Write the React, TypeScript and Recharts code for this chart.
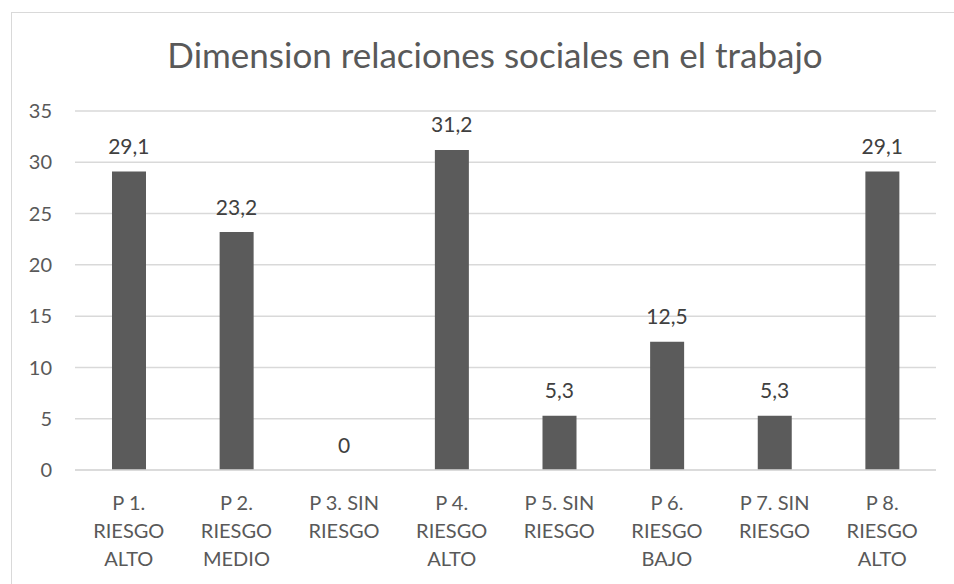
import React from 'react';
import { ComposedChart, Bar, Line, XAxis, YAxis, CartesianGrid, LabelList } from 'recharts';

const categories = [
  'P 1.\nRIESGO\nALTO',
  'P 2.\nRIESGO\nMEDIO',
  'P 3. SIN\nRIESGO',
  'P 4.\nRIESGO\nALTO',
  'P 5. SIN\nRIESGO',
  'P 6.\nRIESGO\nBAJO',
  'P 7. SIN\nRIESGO',
  'P 8.\nRIESGO\nALTO',
];
const values = [29.1, 23.2, 0, 31.2, 5.3, 12.5, 5.3, 29.1];
const yTicks = [0, 5, 10, 15, 20, 25, 30, 35];

const title = 'Dimension relaciones sociales en el trabajo';
const FONT = 'Lato, "Noto Sans", sans-serif';
const TEXT_GRAY = '#595959';

const data = categories.map((name, i) => ({ name, value: values[i] }));

// multi-line category label, Excel-style wrapping
function CategoryTick(props: any) {
  const { x, y, payload } = props;
  const lines: string[] = String(payload.value).split('\n');
  return (
    <g>
      {lines.map((line, i) => (
        <text
          key={i}
          x={x}
          y={y + 32 + i * 28}
          textAnchor="middle"
          fill={TEXT_GRAY}
          fontSize={20}
          fontFamily={FONT}
        >
          {line}
        </text>
      ))}
    </g>
  );
}

// value labels sit on an invisible line so the zero value still gets one
function ValueLabel(props: any) {
  const { x, y, value } = props;
  return (
    <text
      x={x}
      y={y - 17.5}
      textAnchor="middle"
      fill="#404040"
      fontSize={21}
      fontFamily={FONT}
    >
      {String(value).replace('.', ',')}
    </text>
  );
}

export default function App() {
  return (
    <div style={{ position: 'absolute', left: 0, top: 0, width: 954, height: 584, overflow: 'hidden', background: '#fff' }}>
      <div
        style={{
          position: 'absolute',
          left: 11,
          top: 12,
          width: 1000,
          height: 1000,
          border: '1px solid #d9d9d9',
        }}
      />
      <div
        style={{
          position: 'absolute',
          left: 495,
          top: 37,
          transform: 'translateX(-50%)',
          whiteSpace: 'nowrap',
          fontFamily: FONT,
          fontSize: 35,
          lineHeight: 1,
          color: TEXT_GRAY,
        }}
      >
        {title}
      </div>
      <div style={{ position: 'absolute', left: 0, top: 0 }}>
        <ComposedChart
          width={954}
          height={584}
          data={data}
          margin={{ top: 111, right: 18, bottom: 0, left: 0 }}
        >
          <CartesianGrid vertical={false} stroke="#d9d9d9" strokeWidth={1.5} />
          <XAxis
            dataKey="name"
            height={114}
            axisLine={{ stroke: '#d9d9d9', strokeWidth: 1.5 }}
            tickLine={false}
            tick={<CategoryTick />}
            interval={0}
          />
          <YAxis
            domain={[0, 35]}
            ticks={yTicks}
            width={75}
            axisLine={false}
            tickLine={false}
            tickSize={0}
            tickMargin={23}
            tick={{ fill: TEXT_GRAY, fontSize: 20, fontFamily: FONT }}
          />
          <Bar dataKey="value" fill="#5b5b5b" barSize={34} isAnimationActive={false} />
          <Line
            dataKey="value"
            stroke="none"
            dot={false}
            activeDot={false}
            isAnimationActive={false}
          >
            <LabelList dataKey="value" content={<ValueLabel />} />
          </Line>
        </ComposedChart>
      </div>
    </div>
  );
}
